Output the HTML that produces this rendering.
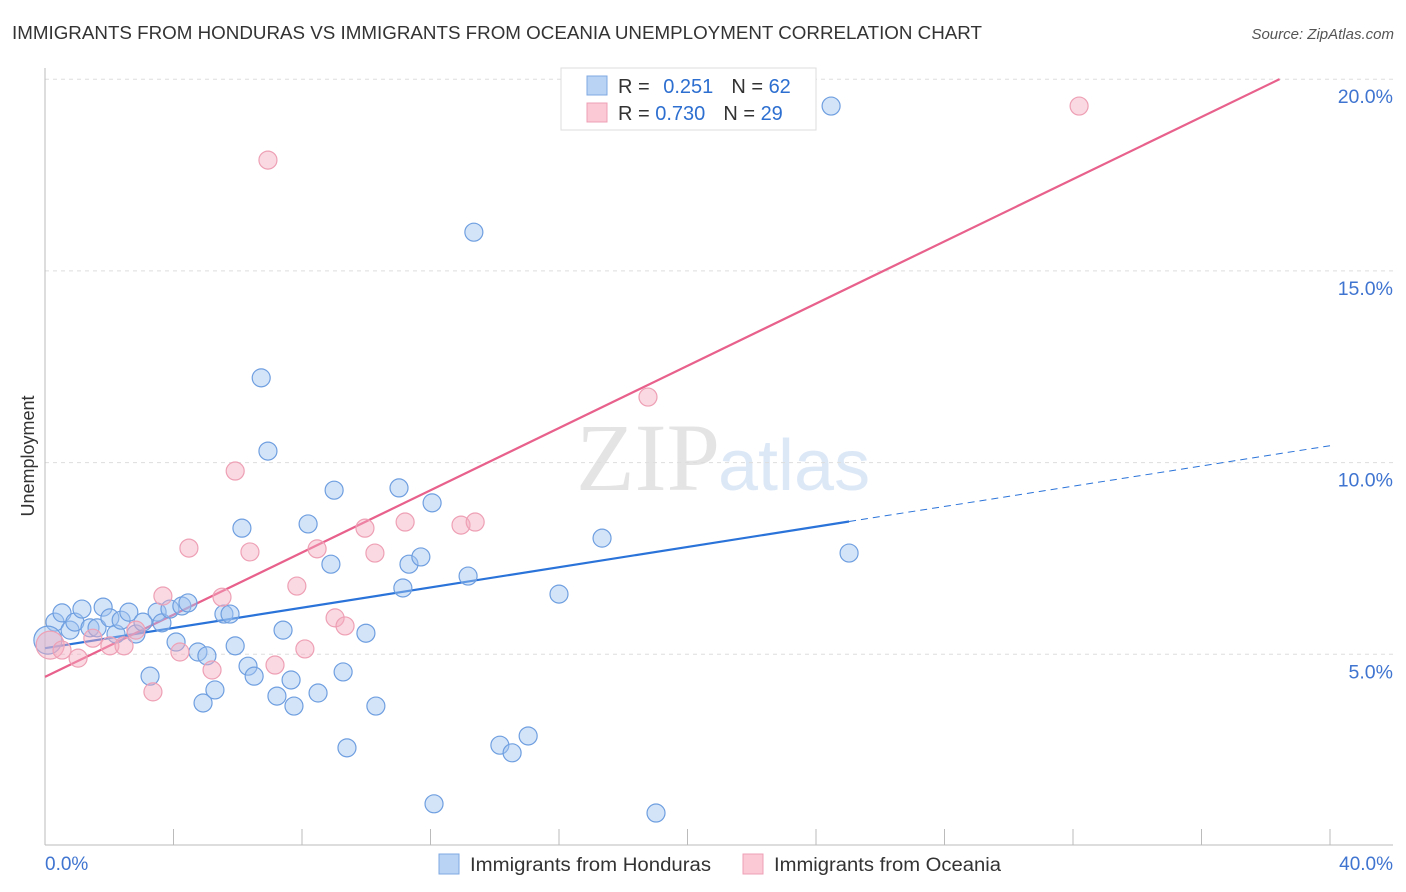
<!DOCTYPE html>
<html><head><meta charset="utf-8"><style>
body{margin:0;background:#fff;font-family:"Liberation Sans",sans-serif}
svg{display:block}
</style></head><body>
<svg id="chart" width="1406" height="892">
<text x="12" y="39" font-size="18" fill="#333" textLength="970" lengthAdjust="spacingAndGlyphs">IMMIGRANTS FROM HONDURAS VS IMMIGRANTS FROM OCEANIA UNEMPLOYMENT CORRELATION CHART</text>
<text x="1394" y="39" font-size="15" fill="#555" font-style="italic" text-anchor="end">Source: ZipAtlas.com</text>
<text x="720" y="490" font-size="96" fill="#e4e4e4" text-anchor="end" font-family="Liberation Serif">ZIP</text>
<text x="718" y="490" font-size="72" fill="#dde8f7">atlas</text>
<text transform="translate(34,456) rotate(-90)" font-size="18" fill="#333" text-anchor="middle">Unemployment</text>
<g id="grid"></g><g id="lines"></g><g id="pts"></g>
<g>
<rect x="561" y="68" width="255" height="62" fill="#fff" stroke="#ddd"/>
<rect x="587" y="76" width="20" height="19" fill="#b9d3f5" stroke="#7fa8e0"/>
<rect x="587" y="103" width="20" height="19" fill="#fbc8d6" stroke="#eea0b5"/>
<text x="618" y="93" font-size="20" fill="#333">R = <tspan fill="#2d6fd0" dx="8">0.251</tspan><tspan dx="18" fill="#333">N = </tspan><tspan fill="#2d6fd0">62</tspan></text>
<text x="618" y="120" font-size="20" fill="#333">R = <tspan fill="#2d6fd0">0.730</tspan><tspan dx="18" fill="#333">N = </tspan><tspan fill="#2d6fd0">29</tspan></text>
</g>
<g>
<rect x="439" y="854" width="20" height="20" fill="#b9d3f5" stroke="#7fa8e0"/>
<text x="470" y="871" font-size="19" fill="#333" textLength="241" lengthAdjust="spacingAndGlyphs">Immigrants from Honduras</text>
<rect x="743" y="854" width="20" height="20" fill="#fbc8d6" stroke="#eea0b5"/>
<text x="774" y="871" font-size="19" fill="#333" textLength="227" lengthAdjust="spacingAndGlyphs">Immigrants from Oceania</text>
</g>
<text x="45" y="870" font-size="19" fill="#3f74d0">0.0%</text>
<text x="1393" y="870" font-size="19" fill="#3f74d0" text-anchor="end">40.0%</text>
</svg>
<script>
const yTicks=[5,10,15,20];
const yTickLabels=["5.0%","10.0%","15.0%","20.0%"];
const xTicks=[0,4,8,12,16,20,24,28,32,36,40];
const hondX=[0.31,0.53,0.78,0.93,1.15,1.40,1.62,1.81,2.02,2.21,2.37,2.61,2.83,3.05,3.27,3.49,3.64,3.89,4.08,4.26,4.45,4.76,4.92,5.04,5.29,5.57,5.76,5.92,6.13,6.32,6.51,6.73,6.94,7.22,7.41,7.66,7.75,8.19,8.50,8.90,9.00,9.28,9.40,9.99,10.30,11.02,11.14,11.33,11.70,12.05,12.11,13.17,13.35,14.16,14.54,15.04,16.00,17.34,19.02,24.47,25.03,0.09];
const hondY=[5.84,6.08,5.63,5.84,6.18,5.69,5.69,6.23,5.95,5.53,5.89,6.10,5.53,5.84,4.43,6.10,5.82,6.18,5.32,6.26,6.34,5.06,3.73,4.96,4.07,6.05,6.05,5.22,8.29,4.69,4.43,12.21,10.30,3.91,5.63,4.33,3.65,8.40,3.99,7.35,9.28,4.54,2.56,5.55,3.65,9.34,6.73,7.35,7.54,8.95,1.10,7.04,16.01,2.63,2.43,2.87,6.57,8.03,0.86,19.30,7.64,5.37];
const oceX=[0.16,0.53,1.03,1.49,2.02,2.46,2.83,3.36,3.67,4.20,4.48,5.20,5.51,5.92,6.38,6.94,7.16,7.84,8.09,8.47,9.03,9.34,9.96,10.27,11.21,12.95,13.39,18.77,32.19];
const oceY=[5.24,5.11,4.90,5.42,5.22,5.22,5.63,4.02,6.52,5.06,7.77,4.59,6.49,9.78,7.67,17.89,4.72,6.78,5.14,7.75,5.95,5.74,8.29,7.64,8.45,8.37,8.45,11.71,19.30];
const hondTrend=[5.16,0.132]; const hondSolidEnd=25.03;
const oceTrend=[4.41,0.4057]; const oceEnd=38.43;
const X=v=>45+v*1285/40, Y=v=>846-v*191.7/5;
const NS='http://www.w3.org/2000/svg';
function mk(t,a,p){const e=document.createElementNS(NS,t);for(const k in a)e.setAttribute(k,a[k]);p.appendChild(e);return e;}
const grid=document.getElementById('grid');
yTicks.forEach((t,i)=>{
 const l=mk('line',{x1:45,x2:1393,y1:Y(t),y2:Y(t),stroke:'#ddd','stroke-dasharray':'4 4'},grid);
 
 
 const tx=mk('text',{x:1393,y:Y(t)+24,'font-size':19.5,fill:'#3f74d0','text-anchor':'end'},grid);
 tx.textContent=yTickLabels[i];
 
 
});
const axl=mk('line',{x1:45,x2:45,y1:68,y2:845,stroke:'#bbb'},grid);


const axb=mk('line',{x1:45,x2:1393,y1:845,y2:845,stroke:'#bbb'},grid);


xTicks.forEach(t=>{const k=mk('line',{x1:X(t),x2:X(t),y1:829,y2:845,stroke:'#bbb'},grid);
 
 });
const pts=document.getElementById('pts');
function dots(xs,ys,fill,stroke,name){xs.forEach((x,i)=>{const r=(x<0.2)?14:9;
 const c=mk('circle',{cx:X(x),cy:Y(ys[i]),r:r,fill:fill,stroke:stroke,'stroke-width':1.2},pts);
 
 });}
dots(hondX,hondY,'rgba(160,195,240,0.45)','#6f9fe0','honduras-point');
dots(oceX,oceY,'rgba(245,170,190,0.45)','#eea0b5','oceania-point');
const lines=document.getElementById('lines');
const f=(p,x)=>p[0]+p[1]*x;
const b1=mk('line',{x1:X(0),y1:Y(f(hondTrend,0)),x2:X(hondSolidEnd),y2:Y(f(hondTrend,hondSolidEnd)),stroke:'#2a73d9','stroke-width':2.2},lines);


const b2=mk('line',{x1:X(hondSolidEnd),y1:Y(f(hondTrend,hondSolidEnd)),x2:X(40),y2:Y(f(hondTrend,40)),stroke:'#2a73d9','stroke-width':1,'stroke-dasharray':'7 5'},lines);


const p1=mk('line',{x1:X(0),y1:Y(f(oceTrend,0)),x2:X(oceEnd),y2:Y(f(oceTrend,oceEnd)),stroke:'#e8608c','stroke-width':2.2},lines);


</script>
</body></html>
